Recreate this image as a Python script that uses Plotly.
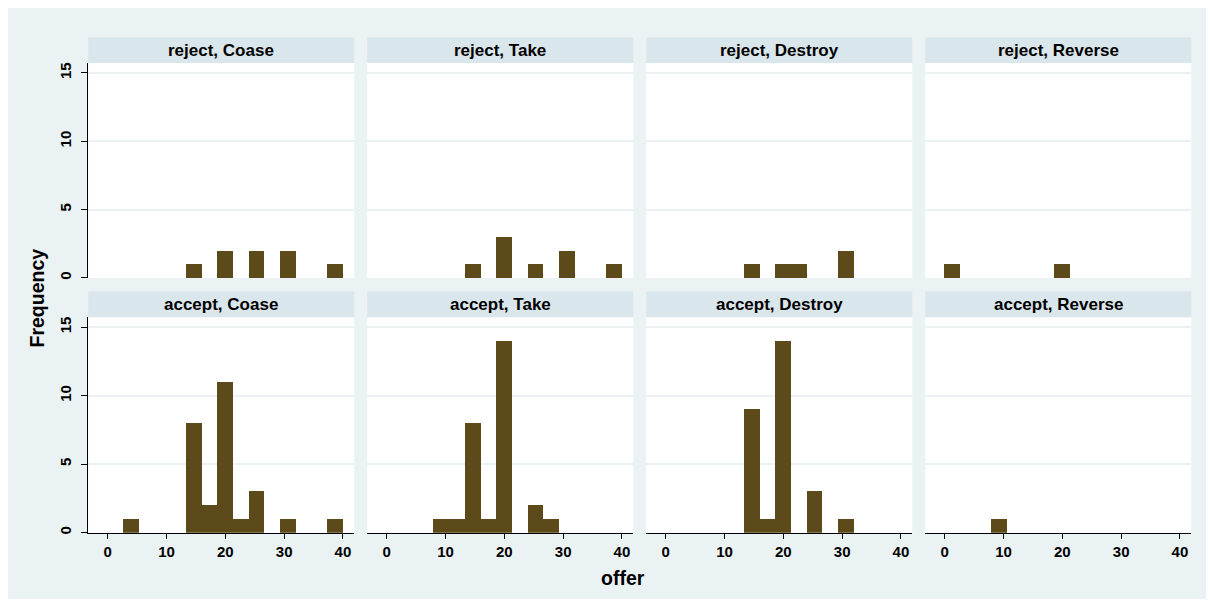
import plotly.graph_objects as go

# ---------------- data ----------------
bin_start = 0.0
bin_width = 40.0 / 15
n_bins = 15

rows = ["reject", "accept"]
treatments = ["Coase", "Take", "Destroy", "Reverse"]

reject_coase = [0, 0, 0, 0, 0, 1, 0, 2, 0, 2, 0, 2, 0, 0, 1]
reject_take = [0, 0, 0, 0, 0, 1, 0, 3, 0, 1, 0, 2, 0, 0, 1]
reject_destroy = [0, 0, 0, 0, 0, 1, 0, 1, 1, 0, 0, 2, 0, 0, 0]
reject_reverse = [1, 0, 0, 0, 0, 0, 0, 1, 0, 0, 0, 0, 0, 0, 0]
accept_coase = [0, 1, 0, 0, 0, 8, 2, 11, 1, 3, 0, 1, 0, 0, 1]
accept_take = [0, 0, 0, 1, 1, 8, 1, 14, 0, 2, 1, 0, 0, 0, 0]
accept_destroy = [0, 0, 0, 0, 0, 9, 1, 14, 0, 3, 0, 1, 0, 0, 0]
accept_reverse = [0, 0, 0, 1, 0, 0, 0, 0, 0, 0, 0, 0, 0, 0, 0]

x_ticks = [0, 10, 20, 30, 40]
y_ticks = [0, 5, 10, 15]
x_title = "offer"
y_title = "Frequency"

counts = {
    ("reject", "Coase"): reject_coase,
    ("reject", "Take"): reject_take,
    ("reject", "Destroy"): reject_destroy,
    ("reject", "Reverse"): reject_reverse,
    ("accept", "Coase"): accept_coase,
    ("accept", "Take"): accept_take,
    ("accept", "Destroy"): accept_destroy,
    ("accept", "Reverse"): accept_reverse,
}

# ---------------- style ----------------
OFF = 8  # browser body margin
W, H = 1214 - 2 * OFF, 607 - 2 * OFF
FONT = "Liberation Sans, Arial, sans-serif"
BG = "#eaf2f3"
STRIP = "#d9e6eb"
BAR = "#5c4a1b"
GRID = "#eaf2f3"

def fx(px):
    return (px - OFF) / W

def fy(py):
    return 1 - (py - OFF) / H

panel_left0 = 88.3
panel_step = 279.0
panel_w = 266.0
row_geom = [  # strip top, plot top, plot bottom (screen px)
    (36.7, 62.3, 278.3),
    (292.0, 317.7, 534.3),
]
x_range = [-3.3, 41.93]
y_range = [0, 15.73]

centers = [bin_start + bin_width * (i + 0.5) for i in range(n_bins)]

fig = go.Figure()
shapes = []
annotations = []
layout_axes = {}

k = 0
for r, row in enumerate(rows):
    st, pt, pb = row_geom[r]
    for c, tr in enumerate(treatments):
        k += 1
        xl = panel_left0 + c * panel_step
        xr = xl + panel_w
        xa = "x" if k == 1 else f"x{k}"
        ya = "y" if k == 1 else f"y{k}"
        xkey = "xaxis" if k == 1 else f"xaxis{k}"
        ykey = "yaxis" if k == 1 else f"yaxis{k}"
        fig.add_trace(go.Bar(
            x=centers, y=counts[(row, tr)], width=bin_width,
            marker=dict(color=BAR, line=dict(width=0)),
            xaxis=xa, yaxis=ya, showlegend=False,
        ))
        bottom = (r == len(rows) - 1)
        left = (c == 0)
        layout_axes[xkey] = dict(
            domain=[fx(xl), fx(xr)], anchor=ya, range=x_range,
            showgrid=False, zeroline=False,
            showline=bottom, linecolor="black", linewidth=1,
            ticks="outside" if bottom else "", ticklen=5, tickcolor="black",
            tickvals=x_ticks if bottom else [], showticklabels=bottom,
            tickfont=dict(family=FONT, size=15, color="black", weight="bold"),
        )
        layout_axes[ykey] = dict(
            domain=[fy(pb), fy(pt)], anchor=xa, range=y_range,
            showgrid=True, gridcolor=GRID, gridwidth=1.5,
            zeroline=False, tickvals=y_ticks,
            showline=left, linecolor="black", linewidth=1,
            ticks="outside" if left else "", ticklen=6, tickcolor="black",
            showticklabels=left, tickangle=-90,
            ticklabelstandoff=4,
            tickfont=dict(family=FONT, size=15, color="black", weight="bold"),
        )
        shapes.append(dict(type="rect", xref="paper", yref="paper",
                           x0=fx(xl), x1=fx(xr), y0=fy(pb), y1=fy(pt),
                           fillcolor="white", line=dict(width=0), layer="below"))
        shapes.append(dict(type="rect", xref="paper", yref="paper",
                           x0=fx(xl), x1=fx(xr), y0=fy(pt), y1=fy(st),
                           fillcolor=STRIP, line=dict(width=0), layer="below"))
        annotations.append(dict(
            text=f"{row}, {tr}", xref="paper", yref="paper",
            x=fx((xl + xr) / 2), y=fy((st + pt) / 2),
            xanchor="center", yanchor="middle", showarrow=False,
            font=dict(family=FONT, size=17, color="black", weight="bold"),
        ))

annotations.append(dict(
    text=y_title, xref="paper", yref="paper", x=fx(37), y=fy(299),
    xanchor="center", yanchor="middle", textangle=-90, showarrow=False,
    font=dict(family=FONT, size=19.5, color="black", weight="bold"),
))
annotations.append(dict(
    text=x_title, xref="paper", yref="paper", x=fx(623), y=fy(580),
    xanchor="center", yanchor="middle", showarrow=False,
    font=dict(family=FONT, size=19.5, color="black", weight="bold"),
))

fig.update_layout(
    width=W, height=H,
    margin=dict(l=0, r=0, t=0, b=0),
    paper_bgcolor=BG, plot_bgcolor="rgba(0,0,0,0)",
    bargap=0, barmode="overlay",
    shapes=shapes, annotations=annotations,
    **layout_axes,
)

fig.write_html("out.html")
